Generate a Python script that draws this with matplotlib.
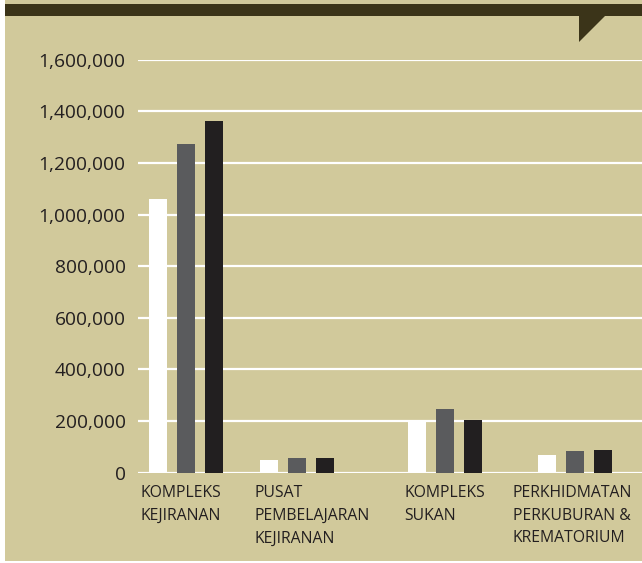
import matplotlib
matplotlib.use("Agg")
import matplotlib.pyplot as plt
from matplotlib.patches import Rectangle, Polygon
import numpy as np

categories = ["KOMPLEKS\nKEJIRANAN", "PUSAT\nPEMBELAJARAN\nKEJIRANAN",
              "KOMPLEKS\nSUKAN", "PERKHIDMATAN\nPERKUBURAN &\nKREMATORIUM"]
series_a = [1060000, 49000, 200000, 68000]
series_b = [1274000, 57000, 247000, 84000]
series_c = [1363000, 57000, 204000, 88000]
y_ticks = [0, 200000, 400000, 600000, 800000, 1000000, 1200000, 1400000, 1600000]
y_tick_labels = ["0", "200,000", "400,000", "600,000", "800,000",
                 "1,000,000", "1,200,000", "1,400,000", "1,600,000"]

# layout (not data): slot positions of the groups and label nudges in points
group_pos = [0.0, 0.856, 2.0, 3.0]
label_dx = [-6, -4, -3, -18]

BG = "#D1C99B"
DARK = "#3B3419"
TXT = "#231F20"
colors = ["#FFFFFF", "#5A5B5D", "#221F20"]

W, H = 642, 563
fig = plt.figure(figsize=(W / 100, H / 100), dpi=100)
fig.patch.set_facecolor("white")

fig.add_artist(Rectangle((5 / W, 2 / H), 1 - 5 / W, 1 - 2 / H, transform=fig.transFigure,
                         facecolor=BG, edgecolor="none", zorder=0))
fig.add_artist(Rectangle((5 / W, 1 - 16 / H), 1 - 5 / W, 12 / H, transform=fig.transFigure,
                         facecolor=DARK, edgecolor="none", zorder=1))
fig.add_artist(Polygon([(579 / W, 1 - 16 / H), (605 / W, 1 - 16 / H), (579 / W, 1 - 42 / H)],
                       closed=True, transform=fig.transFigure,
                       facecolor=DARK, edgecolor="none", zorder=1))

font = ["Open Sans", "DejaVu Sans"]
ax_left, ax_right = 138, 642
ax_bottom, ax_top = 472.7, 59.7
ax = fig.add_axes([ax_left / W, 1 - ax_bottom / H, (ax_right - ax_left) / W, (ax_bottom - ax_top) / H])
ax.set_facecolor("none")

x = np.array(group_pos)
bw = 0.139
step = 0.216
for i, (vals, c) in enumerate(zip([series_a, series_b, series_c], colors)):
    ax.bar(x + (i - 1) * step, vals, width=bw, color=c, zorder=3, linewidth=0)

ax.set_ylim(0, 1600000)
ax.set_xlim(-0.370, 3.517)
ax.set_yticks(y_ticks)
ax.set_yticklabels(y_tick_labels, fontfamily=font, fontsize=13.8, color=TXT)
ax.tick_params(axis="y", length=0, pad=9)
ax.set_xticks([])
for s in ax.spines.values():
    s.set_visible(False)
for yt in y_ticks:
    ax.axhline(yt, color="white", lw=1.6, zorder=2)

for xi, lab, dx in zip(x, categories, label_dx):
    ax.annotate(lab, xy=(xi - step - bw / 2, 0), xycoords="data",
                xytext=(dx, -9), textcoords="offset points",
                ha="left", va="top", fontfamily=font, fontsize=11.3,
                color=TXT, linespacing=1.55, annotation_clip=False)

fig.savefig("out.png", dpi=100, facecolor=fig.get_facecolor())
